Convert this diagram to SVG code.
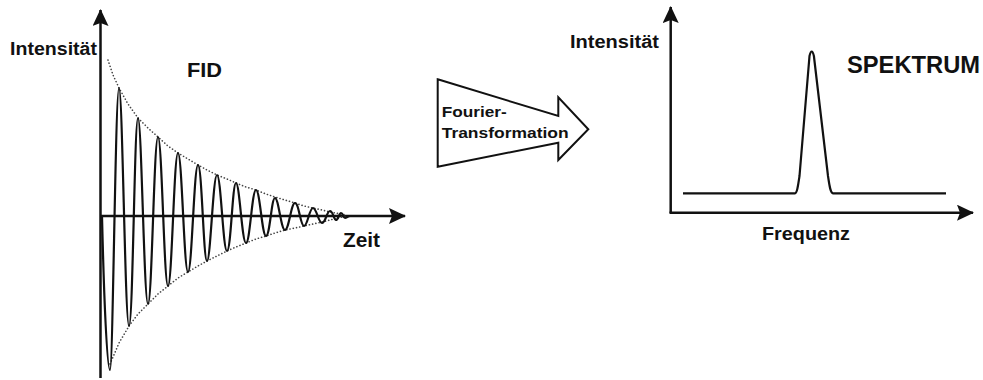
<svg xmlns="http://www.w3.org/2000/svg" width="983" height="380" viewBox="0 0 983 380">
<style>
.lbl{font-family:"Liberation Sans",Arial,sans-serif;font-weight:bold;fill:#111}
.axis{stroke:#111;stroke-width:2.5;fill:none}
.env{stroke:#444;stroke-width:1.6;fill:none;stroke-dasharray:0.1 3.2;stroke-linecap:round}
.sig{stroke:#111;stroke-width:2.2;fill:none;stroke-linejoin:round}
</style>
<defs>
<marker id="ah" viewBox="0 0 17 16" markerWidth="17" markerHeight="16" refX="16" refY="8" orient="auto" markerUnits="userSpaceOnUse">
<path d="M0,0 L17,8 L0,16 L3,8 z" fill="#111"/>
</marker>
</defs>
<rect width="983" height="380" fill="#fff"/>
<g id="connectors">
<path class="axis" d="M100.5,378 L100.5,10" marker-end="url(#ah)"/>
<path class="axis" d="M100,216 L405,216" marker-end="url(#ah)"/>
<path class="axis" d="M670.7,213 L670.7,7" marker-end="url(#ah)"/>
<path class="axis" d="M669.5,212.7 L973,212.7" marker-end="url(#ah)"/>
</g>
<g id="fid">
<polyline class="env" points="108,60 113,75 119,88 128,104 138,118 148,128 158,137 168,146 178,153 188,159 198,165 207,170 217,175 227,179 236,183 246,187 256,190 266,194 275,197 285,200 295,203 304,206 313,208 322,210 330,212 338,213.5 346,215"/>
<polyline class="env" points="110,364 119,343 129,326 138,314 148,304 158,294 168,286 178,278 188,272 198,266 207,261 217,256 227,251 236,247 246,243 256,239 266,236 275,233 285,230 295,228 304,226 313,224 322,222 330,220 338,218 346,216"/>
<path class="sig" d="M102,216 C104,300 107,370 110,370 S115.4,88 119,88 S125,326 129,326 S134.4,118 138,118 S144,304 148,304 S154,137 158,137 S164,286 168,286 S174,153 178,153 S184,272 188,272 S194,165 198,165 S203.4,261 207,261 S213,175 217,175 S223,251 227,251 S232.4,183 236,183 S242,243 246,243 S252,190 256,190 S262,236 266,236 S271.4,198 275,198 S281,230 285,230 S291,203 295,203 S300.4,226 304,226 S309.4,208 313,208 S318.4,223 322,223 S326.8,211 330,211 S333.6,220 336,220 S339,213 341,213 S343.4,218 345,218 S348,216 350,216"/>
<text class="lbl" x="10" y="55" font-size="18" textLength="87" lengthAdjust="spacingAndGlyphs">Intensität</text>
<text class="lbl" x="187" y="77" font-size="19.5" textLength="35" lengthAdjust="spacingAndGlyphs">FID</text>
<text class="lbl" x="343" y="247" font-size="19.5" textLength="37" lengthAdjust="spacingAndGlyphs">Zeit</text>
</g>
<g id="fourier">
<polygon points="437.7,79.3 558.3,116 558.3,97.3 588.3,129.3 558.3,160 558.3,142.7 437.7,166.7" fill="#fff" stroke="#111" stroke-width="2" stroke-linejoin="miter"/>
<text class="lbl" x="441.7" y="116.7" font-size="15.5" font-weight="normal" style="font-weight:600" textLength="65" lengthAdjust="spacingAndGlyphs">Fourier-</text>
<text class="lbl" x="441.7" y="138.3" font-size="15.5" style="font-weight:600" textLength="127" lengthAdjust="spacingAndGlyphs">Transformation</text>
</g>
<g id="spektrum">
<path class="sig" d="M683,193.3 L795,193.3 C797,193.3 798,186 799.5,176 L809.5,56 Q811.7,47 813.9,56 L828,176 C829.5,186 830.5,193.3 833,193.3 L946,193.3"/>
<text class="lbl" x="570" y="48" font-size="18" textLength="89" lengthAdjust="spacingAndGlyphs">Intensität</text>
<text class="lbl" x="847" y="73" font-size="24.5" textLength="133" lengthAdjust="spacingAndGlyphs">SPEKTRUM</text>
<text class="lbl" x="762" y="240" font-size="18.5" textLength="88" lengthAdjust="spacingAndGlyphs">Frequenz</text>
</g>
</svg>
